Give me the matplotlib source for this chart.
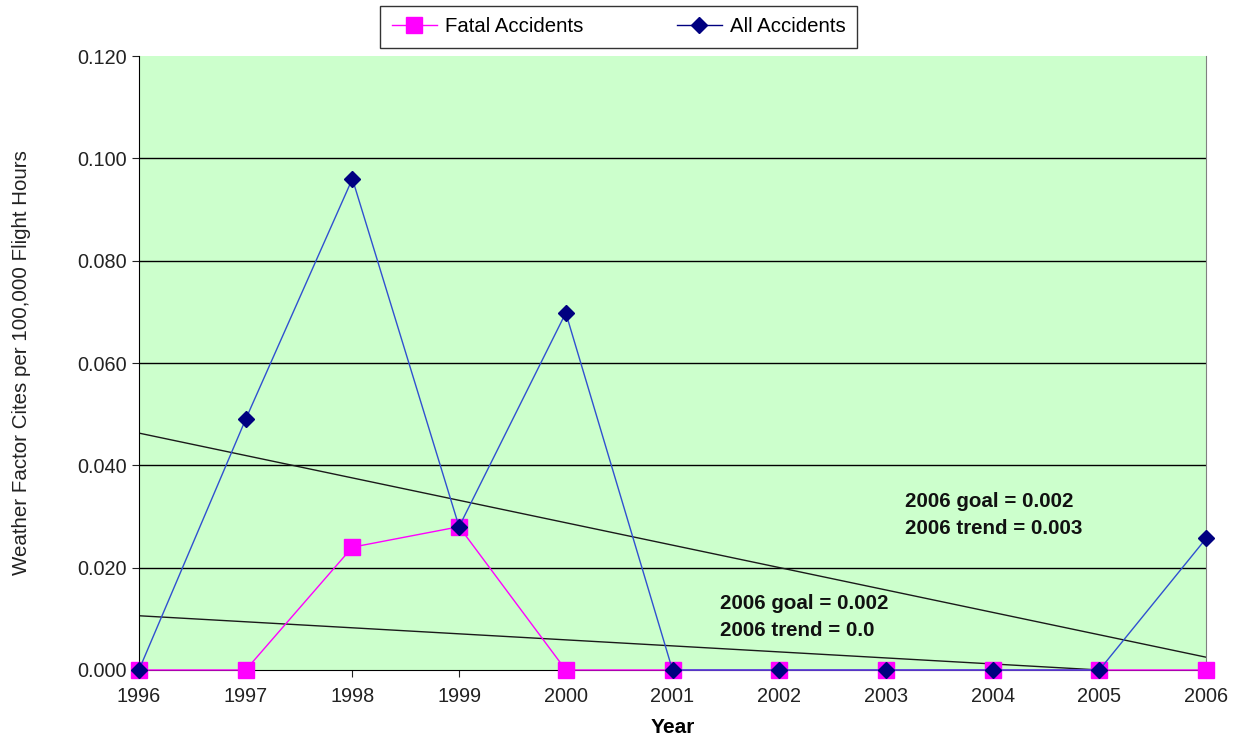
import matplotlib
matplotlib.use("Agg")
import matplotlib.pyplot as plt
from matplotlib.lines import Line2D

plt.rcParams['font.family'] = ['Liberation Sans', 'DejaVu Sans']

years = [1996, 1997, 1998, 1999, 2000, 2001, 2002, 2003, 2004, 2005, 2006]
fatal = [0.0, 0.0, 0.024, 0.028, 0.0, 0.0, 0.0, 0.0, 0.0, 0.0, 0.0]
all_acc = [0.0, 0.049, 0.096, 0.028, 0.0698, 0.0, 0.0, 0.0, 0.0, 0.0, 0.0257]

# trend lines (start/end year and value)
trend_all_x = [1996, 2006]
trend_all_y = [0.0463, 0.0025]
trend_fatal_x = [1996, 2005]
trend_fatal_y = [0.0106, 0.0]

yticks = [0.0, 0.02, 0.04, 0.06, 0.08, 0.10, 0.12]

fig = plt.figure(figsize=(12.44, 7.47), dpi=100)
ax = fig.add_axes([0.1117, 0.1031, 0.9695 - 0.1117, 0.925 - 0.1031])
ax.set_facecolor('#CCFFCC')

for y in yticks[1:-1]:
    ax.axhline(y, color='black', lw=1.0, zorder=1)

ax.plot(trend_all_x, trend_all_y, color='#1a1a1a', lw=1.0, zorder=2)
ax.plot(trend_fatal_x, trend_fatal_y, color='#1a1a1a', lw=1.0, zorder=2)

ax.plot(years, fatal, color='#FF00FF', lw=1.0, marker='s', markersize=11,
        markerfacecolor='#FF00FF', markeredgecolor='#FF00FF', zorder=3, clip_on=False)
ax.plot(years, all_acc, color='#3050D0', lw=1.0, marker='D', markersize=8.5,
        markerfacecolor='#000080', markeredgecolor='#000080', zorder=4, clip_on=False)

ax.set_xlim(1996, 2006)
ax.set_ylim(0, 0.12)
ax.set_xticks(years)
ax.set_xticklabels([str(y) for y in years])
ax.set_yticks(yticks)
ax.set_yticklabels([f"{v:.3f}" for v in yticks])
ax.tick_params(axis='both', labelsize=14.3, colors='#222222', direction='out', length=5)
ax.tick_params(axis='x', pad=7)
ax.tick_params(axis='y', pad=4)

ax.spines['top'].set_visible(False)
ax.spines['right'].set_color('#808080')
ax.spines['left'].set_color('black')
ax.spines['bottom'].set_color('black')

ax.set_xlabel('Year', fontsize=15, fontweight='bold', labelpad=9)
ax.set_ylabel('Weather Factor Cites per 100,000 Flight Hours', fontsize=14.8,
              labelpad=33, color='#222222')

ax.text(2003.18, 0.0303, '2006 goal = 0.002\n2006 trend = 0.003', fontsize=14.8,
        fontweight='bold', ha='left', va='center', linespacing=1.55, color='#111111')
ax.text(2001.445, 0.0104, '2006 goal = 0.002\n2006 trend = 0.0', fontsize=14.8,
        fontweight='bold', ha='left', va='center', linespacing=1.55, color='#111111')

handles = [
    Line2D([], [], color='#FF00FF', lw=1.0, marker='s', markersize=11,
           markerfacecolor='#FF00FF', markeredgecolor='#FF00FF'),
    Line2D([], [], color='#000080', lw=1.0, marker='D', markersize=8.5,
           markerfacecolor='#000080', markeredgecolor='#000080'),
]
leg = fig.legend(handles, ['Fatal Accidents', 'All Accidents'], loc='center',
                 bbox_to_anchor=(0.4974, 0.964), ncol=2, fontsize=14.7, frameon=True,
                 fancybox=False, edgecolor='black', columnspacing=4.6, handlelength=2.2,
                 borderpad=0.55, handletextpad=0.4)
leg.get_frame().set_linewidth(1.0)

fig.savefig('out.png', dpi=100)
